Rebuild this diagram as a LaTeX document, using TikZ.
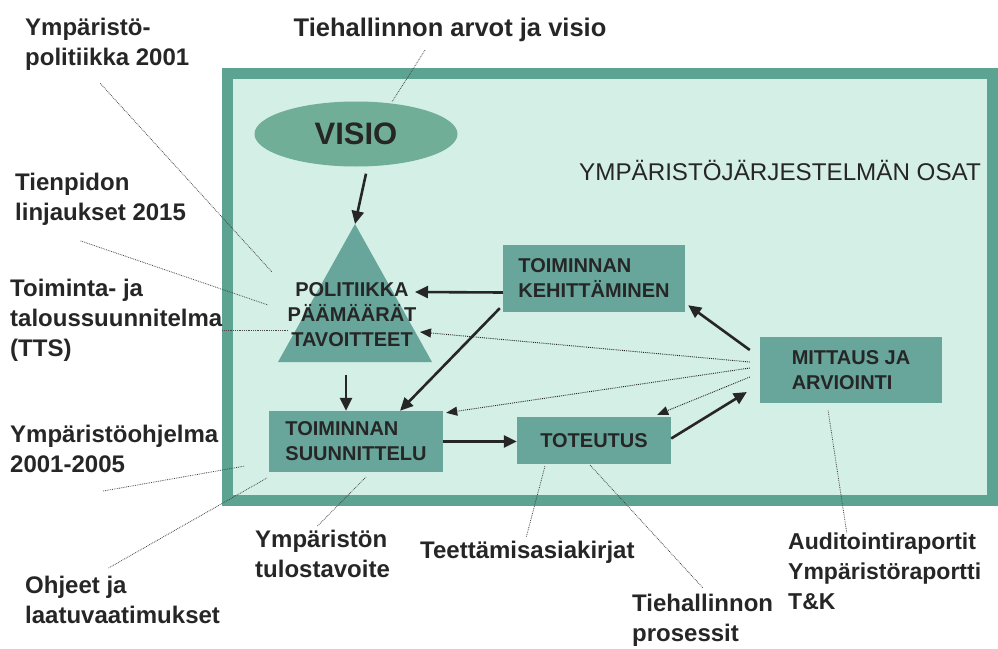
\documentclass[tikz,border=0pt]{standalone}
\usepackage{fontspec}
\setmainfont{Liberation Sans}
\usetikzlibrary{arrows.meta,shapes.geometric}

\definecolor{frameteal}{RGB}{92,163,146}
\definecolor{mint}{RGB}{212,239,230}
\definecolor{boxteal}{RGB}{104,166,156}
\definecolor{ovalteal}{RGB}{112,174,152}
\definecolor{inkgrey}{RGB}{38,38,38}

\tikzset{
  lbl/.style={font=\bfseries\fontsize{24}{30}\selectfont, text=inkgrey, align=left, inner sep=0pt},
  box/.style={fill=boxteal, font=\bfseries\fontsize{20}{25}\selectfont, text=inkgrey, align=left, inner sep=0pt},
  arr/.style={-{Triangle[length=13pt,width=12pt]}, line width=2.6pt, draw=inkgrey},
  dotarr/.style={-{Triangle[length=11pt,width=9pt]}, line width=0.9pt, densely dotted, draw=inkgrey},
  leader/.style={line width=0.8pt, densely dotted, draw=inkgrey!85},
}

\begin{document}
\begin{tikzpicture}[x=1pt,y=-1pt]
        \useasboundingbox (0,0) rectangle (998,648);

        % Frame of the system
        \draw[frameteal, line width=11pt, fill=mint] (227.5,73.5) rectangle (992.5,500.5);
        \node[font=\fontsize{24.2}{25}\selectfont, text=inkgrey, inner sep=0pt] (osat) at (780,170) {YMPÄRISTÖJÄRJESTELMÄN OSAT};

        % Vision and the policy triangle
        \node[ellipse, fill=ovalteal, minimum width=203pt, minimum height=65pt, inner sep=0pt,
              font=\bfseries\fontsize{31}{31}\selectfont, text=inkgrey] (visio) at (356,134) {VISIO};
        \coordinate (apex) at (355,224);
        \fill[boxteal] (apex) -- (432,362) -- (278,362) -- cycle;
        \coordinate (trbase) at (355,362);
        \node[box, fill=none, align=center] (politik) at (352,315) {POLITIIKKA\\PÄÄMÄÄRÄT\\TAVOITTEET};
        \coordinate (polin) at (415,292);
        \coordinate (tavin) at (420,332);

        % Boxes of the cycle
        \node[box, minimum width=174pt, minimum height=61pt] (suunn) at (356,441.5) {TOIMINNAN\\SUUNNITTELU};
        \node[box, align=center, minimum width=154pt, minimum height=47pt] (tot) at (594,440.5) {TOTEUTUS};
        \node[box, minimum width=182pt, minimum height=67pt] (kehit) at (594,278.5) {TOIMINNAN\\KEHITTÄMINEN};
        \node[box, minimum width=182pt, minimum height=66pt] (mitt) at (851,370) {MITTAUS JA\\ARVIOINTI};

        % Solid arrows
        \draw[arr] ([xshift=10pt,yshift=-7pt]visio.south) -- (apex);
        \draw[arr] ([xshift=-9pt,yshift=-13pt]trbase) -- ([xshift=-10pt]suunn.north);
        \draw[arr] ([yshift=-14pt]kehit.west) -- (polin);
        \draw[arr] ([xshift=-3pt,yshift=4pt]kehit.south west) -- ([xshift=44pt]suunn.north);
        \draw[arr] (suunn.east) -- (suunn.east -| tot.west);
        \draw[arr] ([yshift=2pt]tot.east) -- ([xshift=-13pt,yshift=-22pt]mitt.west);
        \draw[arr] ([xshift=-10pt,yshift=20pt]mitt.west) -- ([xshift=3pt,yshift=7pt]kehit.south east);

        % Feedback from measuring
        \draw[dotarr] ([xshift=-10pt,yshift=8pt]mitt.west) -- (tavin);
        \draw[dotarr] ([xshift=-10pt,yshift=2pt]mitt.west) -- ([xshift=3pt,yshift=-2pt]suunn.north east);
        \draw[dotarr] ([xshift=-10pt,yshift=-7pt]mitt.west) -- ([xshift=-14pt,yshift=2pt]tot.north east);

        % Labels outside the frame
        \node[lbl, anchor=center, font=\bfseries\fontsize{25.5}{30}\selectfont] (arvot) at (450,30) {Tiehallinnon arvot ja visio};
        \node[lbl, anchor=west] (ymppol) at (25,44) {Ympäristö-\\politiikka 2001};
        \node[lbl, anchor=west] (linj) at (15,199.5) {Tienpidon\\linjaukset 2015};
        \node[lbl, anchor=west] (tts) at (10,320) {Toiminta- ja\\taloussuunnitelma\\(TTS)};
        \node[lbl, anchor=west] (ohj) at (10,449) {Ympäristöohjelma\\2001-2005};
        \node[lbl, anchor=west] (laatu) at (25,600) {Ohjeet ja\\laatuvaatimukset};
        \node[lbl, anchor=west] (tulos) at (255,554) {Ympäristön\\tulostavoite};
        \node[lbl, anchor=west] (teett) at (420,552) {Teettämisasiakirjat};
        \node[lbl, anchor=west] (pros) at (632,620) {Tiehallinnon\\prosessit};
        \node[lbl, anchor=west, font=\bfseries\fontsize{23}{30}\selectfont] (audit) at (788,571) {Auditointiraportit\\Ympäristöraportti\\T\&K};

        % Leader lines
        \coordinate (c1) at (392,102);
        \coordinate (c2) at (272,272);
        \coordinate (c3) at (268,305);
        \coordinate (c4) at (288,330);
        \coordinate (c5) at (245,466);
        \coordinate (c6) at (267,478);
        \coordinate (c7) at (366,477);
        \coordinate (c8) at (545,466);
        \coordinate (c9) at (590,465);
        \coordinate (c10) at (828,410);
        \draw[leader] ([xshift=-25pt,yshift=-8pt]arvot.south) -- (c1);
        \draw[leader] ([xshift=-7pt,yshift=-13pt]ymppol.south) -- (c2);
        \draw[leader] ([xshift=-20pt,yshift=-15pt]linj.south) -- (c3);
        \draw[leader] (c4 -| tts.east) -- (c4);
        \draw[leader] ([xshift=-11pt,yshift=-18pt]ohj.south) -- (c5);
        \draw[leader] ([xshift=-14pt,yshift=8pt]laatu.north) -- (c6);
        \draw[leader] ([xshift=-5pt,yshift=4pt]tulos.north) -- (c7);
        \draw[leader] ([xshift=-1pt,yshift=4pt]teett.north) -- (c8);
        \draw[leader] ([yshift=6pt]pros.north) -- (c9);
        \draw[leader] ([xshift=-38pt]audit.north) -- (c10);
\end{tikzpicture}
\end{document}
